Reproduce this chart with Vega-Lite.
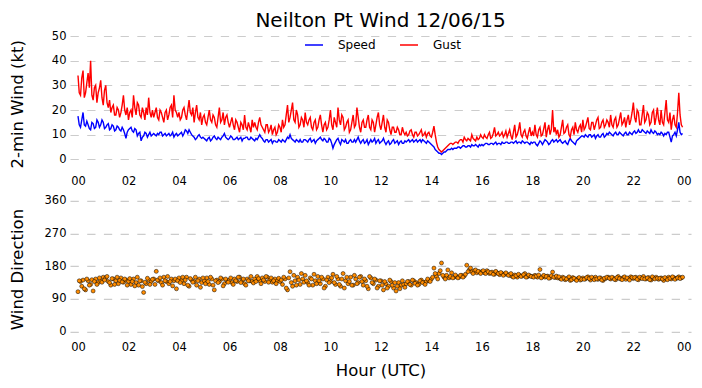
{
"$schema": "https://vega.github.io/schema/vega-lite/v6.json",
"background": "white",
"padding": {"left": 9, "top": 10, "right": 5, "bottom": 5},
"bounds": "flush",
"spacing": 28.9,
"config": {
  "view": {"stroke": null},
  "font": "DejaVu Sans",
  "axis": {"domain": false, "ticks": false, "labelOverlap": false, "labelFont": "DejaVu Sans", "labelFontSize": 11.5, "labelColor": "#000000", "titleFont": "DejaVu Sans", "titleFontSize": 16.5, "titleFontWeight": "normal", "titleColor": "#000000", "gridColor": "#cccccc", "gridDash": [8.3, 8.4], "gridWidth": 1.2, "labelPadding": 4},
  "legend": {"labelFont": "DejaVu Sans", "labelFontSize": 12, "labelColor": "#000000"}
},
"data": {"values": [
{"m":0,"Speed":17.5,"Gust":34,"Dir":110},{"m":6,"Speed":13,"Gust":26,"Dir":138},{"m":12,"Speed":19,"Gust":36,"Dir":142},{"m":18,"Speed":13.5,"Gust":27,"Dir":115},{"m":24,"Speed":14,"Gust":35,"Dir":140},{"m":30,"Speed":12,"Gust":40,"Dir":130},{"m":36,"Speed":14.5,"Gust":24,"Dir":112},{"m":42,"Speed":13,"Gust":30,"Dir":145},{"m":48,"Speed":15,"Gust":27,"Dir":135},{"m":54,"Speed":14,"Gust":32,"Dir":140},
{"m":60,"Speed":15,"Gust":22,"Dir":150},{"m":66,"Speed":13,"Gust":30,"Dir":148},{"m":72,"Speed":14.5,"Gust":21,"Dir":138},{"m":78,"Speed":12.5,"Gust":19,"Dir":128},{"m":84,"Speed":13.5,"Gust":22,"Dir":145},{"m":90,"Speed":12,"Gust":18,"Dir":140},{"m":96,"Speed":13,"Gust":20,"Dir":132},{"m":102,"Speed":11.5,"Gust":19,"Dir":148},{"m":108,"Speed":12,"Gust":26,"Dir":136},{"m":114,"Speed":8.5,"Gust":18,"Dir":142},
{"m":120,"Speed":12,"Gust":16,"Dir":138},{"m":126,"Speed":13,"Gust":20,"Dir":130},{"m":132,"Speed":11,"Gust":26,"Dir":145},{"m":138,"Speed":12,"Gust":18,"Dir":135},{"m":144,"Speed":10.5,"Gust":22,"Dir":128},{"m":150,"Speed":7.5,"Gust":17,"Dir":140},{"m":156,"Speed":9.5,"Gust":19,"Dir":108},{"m":162,"Speed":10.5,"Gust":21,"Dir":132},{"m":168,"Speed":10,"Gust":25,"Dir":142},{"m":174,"Speed":9.5,"Gust":17,"Dir":138},
{"m":180,"Speed":10.5,"Gust":17,"Dir":145},{"m":186,"Speed":9.5,"Gust":21,"Dir":166},{"m":192,"Speed":10,"Gust":16,"Dir":140},{"m":198,"Speed":11,"Gust":19,"Dir":135},{"m":204,"Speed":10,"Gust":15,"Dir":150},{"m":210,"Speed":9.5,"Gust":20,"Dir":138},{"m":216,"Speed":10.5,"Gust":18,"Dir":132},{"m":222,"Speed":10,"Gust":22,"Dir":145},{"m":228,"Speed":9,"Gust":26,"Dir":140},{"m":234,"Speed":10.5,"Gust":19,"Dir":118},
{"m":240,"Speed":10,"Gust":19,"Dir":148},{"m":246,"Speed":11,"Gust":17,"Dir":140},{"m":252,"Speed":10.5,"Gust":21,"Dir":132},{"m":258,"Speed":11.5,"Gust":16,"Dir":150},{"m":264,"Speed":12,"Gust":24,"Dir":125},{"m":270,"Speed":10,"Gust":18,"Dir":142},{"m":276,"Speed":9,"Gust":15,"Dir":138},{"m":282,"Speed":8.5,"Gust":22,"Dir":128},{"m":288,"Speed":10,"Gust":16,"Dir":145},{"m":294,"Speed":8.5,"Gust":14,"Dir":135},
{"m":300,"Speed":8.5,"Gust":18,"Dir":140},{"m":306,"Speed":7.5,"Gust":14,"Dir":148},{"m":312,"Speed":9,"Gust":20,"Dir":130},{"m":318,"Speed":8,"Gust":15,"Dir":145},{"m":324,"Speed":9.5,"Gust":17,"Dir":115},{"m":330,"Speed":8,"Gust":13,"Dir":142},{"m":336,"Speed":8.5,"Gust":21,"Dir":138},{"m":342,"Speed":9,"Gust":16,"Dir":145},{"m":348,"Speed":10.5,"Gust":14,"Dir":132},{"m":354,"Speed":8.5,"Gust":18,"Dir":140},
{"m":360,"Speed":8.5,"Gust":13,"Dir":142},{"m":366,"Speed":9,"Gust":17,"Dir":135},{"m":372,"Speed":8,"Gust":12,"Dir":145},{"m":378,"Speed":9,"Gust":15,"Dir":138},{"m":384,"Speed":8.5,"Gust":11,"Dir":150},{"m":390,"Speed":7.5,"Gust":14,"Dir":140},{"m":396,"Speed":8.5,"Gust":18,"Dir":132},{"m":402,"Speed":9,"Gust":12,"Dir":145},{"m":408,"Speed":8,"Gust":13,"Dir":140},{"m":414,"Speed":8.5,"Gust":16,"Dir":138},
{"m":420,"Speed":7.5,"Gust":15,"Dir":145},{"m":426,"Speed":8,"Gust":12,"Dir":152},{"m":432,"Speed":10,"Gust":17,"Dir":140},{"m":438,"Speed":8.5,"Gust":13,"Dir":148},{"m":444,"Speed":7,"Gust":11,"Dir":138},{"m":450,"Speed":8,"Gust":14,"Dir":150},{"m":456,"Speed":7.5,"Gust":12,"Dir":142},{"m":462,"Speed":6.5,"Gust":10,"Dir":136},{"m":468,"Speed":7.5,"Gust":13,"Dir":145},{"m":474,"Speed":7,"Gust":11,"Dir":140},
{"m":480,"Speed":7.5,"Gust":13,"Dir":138},{"m":486,"Speed":8,"Gust":16,"Dir":130},{"m":492,"Speed":7,"Gust":14,"Dir":145},{"m":498,"Speed":9,"Gust":22,"Dir":115},{"m":504,"Speed":10,"Gust":17,"Dir":165},{"m":510,"Speed":8,"Gust":23,"Dir":125},{"m":516,"Speed":7,"Gust":15,"Dir":140},{"m":522,"Speed":7.5,"Gust":18,"Dir":150},{"m":528,"Speed":8,"Gust":14,"Dir":130},{"m":534,"Speed":7,"Gust":16,"Dir":145},
{"m":540,"Speed":8,"Gust":19,"Dir":155},{"m":546,"Speed":7,"Gust":14,"Dir":135},{"m":552,"Speed":8.5,"Gust":17,"Dir":148},{"m":558,"Speed":7.5,"Gust":12,"Dir":128},{"m":564,"Speed":6.5,"Gust":16,"Dir":140},{"m":570,"Speed":8,"Gust":13,"Dir":152},{"m":576,"Speed":9,"Gust":18,"Dir":132},{"m":582,"Speed":7.5,"Gust":11,"Dir":145},{"m":588,"Speed":8,"Gust":15,"Dir":125},{"m":594,"Speed":7,"Gust":13,"Dir":150},
{"m":600,"Speed":8,"Gust":20,"Dir":138},{"m":606,"Speed":4.5,"Gust":12,"Dir":158},{"m":612,"Speed":7,"Gust":15,"Dir":130},{"m":618,"Speed":8.5,"Gust":21,"Dir":145},{"m":624,"Speed":6,"Gust":14,"Dir":125},{"m":630,"Speed":7.5,"Gust":17,"Dir":160},{"m":636,"Speed":8,"Gust":13,"Dir":140},{"m":642,"Speed":6.5,"Gust":16,"Dir":132},{"m":648,"Speed":8,"Gust":12,"Dir":150},{"m":654,"Speed":7,"Gust":18,"Dir":128},
{"m":660,"Speed":7,"Gust":14,"Dir":145},{"m":666,"Speed":9,"Gust":17,"Dir":135},{"m":672,"Speed":6.5,"Gust":11,"Dir":152},{"m":678,"Speed":8,"Gust":16,"Dir":128},{"m":684,"Speed":7,"Gust":13,"Dir":140},{"m":690,"Speed":6,"Gust":18,"Dir":118},{"m":696,"Speed":8,"Gust":12,"Dir":148},{"m":702,"Speed":7.5,"Gust":15,"Dir":132},{"m":708,"Speed":6.5,"Gust":14,"Dir":142},{"m":714,"Speed":8,"Gust":19,"Dir":125},
{"m":720,"Speed":7,"Gust":12,"Dir":140},{"m":726,"Speed":8.5,"Gust":18,"Dir":115},{"m":732,"Speed":6,"Gust":11,"Dir":132},{"m":738,"Speed":7.5,"Gust":15,"Dir":125},{"m":744,"Speed":6.5,"Gust":10,"Dir":138},{"m":750,"Speed":8,"Gust":13,"Dir":120},{"m":756,"Speed":7,"Gust":11,"Dir":112},{"m":762,"Speed":6,"Gust":12,"Dir":135},{"m":768,"Speed":7.5,"Gust":10,"Dir":128},{"m":774,"Speed":6.5,"Gust":11,"Dir":130},
{"m":780,"Speed":7,"Gust":11,"Dir":132},{"m":786,"Speed":8,"Gust":10,"Dir":138},{"m":792,"Speed":7.5,"Gust":12,"Dir":128},{"m":798,"Speed":7,"Gust":9,"Dir":140},{"m":804,"Speed":8,"Gust":11,"Dir":135},{"m":810,"Speed":7.5,"Gust":10,"Dir":130},{"m":816,"Speed":7,"Gust":12,"Dir":142},{"m":822,"Speed":7.5,"Gust":10,"Dir":136},{"m":828,"Speed":6.5,"Gust":9,"Dir":138},{"m":834,"Speed":7,"Gust":11,"Dir":140},
{"m":840,"Speed":6,"Gust":9,"Dir":145},{"m":846,"Speed":5,"Gust":13.5,"Dir":175},{"m":852,"Speed":3.5,"Gust":7,"Dir":152},{"m":858,"Speed":2.5,"Gust":4,"Dir":160},{"m":864,"Speed":2,"Gust":3,"Dir":189},{"m":870,"Speed":3,"Gust":4,"Dir":150},{"m":876,"Speed":3.5,"Gust":5,"Dir":155},{"m":882,"Speed":4,"Gust":6,"Dir":148},{"m":888,"Speed":4.5,"Gust":6.5,"Dir":162},{"m":894,"Speed":4.5,"Gust":6.5,"Dir":150},
{"m":900,"Speed":4.5,"Gust":7,"Dir":152},{"m":906,"Speed":5,"Gust":7.5,"Dir":150},{"m":912,"Speed":5,"Gust":8,"Dir":155},{"m":918,"Speed":5.5,"Gust":9,"Dir":153},{"m":924,"Speed":5,"Gust":7.5,"Dir":183},{"m":930,"Speed":5.5,"Gust":8,"Dir":170},{"m":936,"Speed":6,"Gust":10,"Dir":165},{"m":942,"Speed":5.5,"Gust":8,"Dir":168},{"m":948,"Speed":5.5,"Gust":9,"Dir":162},{"m":954,"Speed":6,"Gust":8.5,"Dir":165},
{"m":960,"Speed":6,"Gust":9,"Dir":165},{"m":966,"Speed":6,"Gust":10,"Dir":162},{"m":972,"Speed":6.5,"Gust":8.5,"Dir":168},{"m":978,"Speed":6,"Gust":11,"Dir":160},{"m":984,"Speed":6.5,"Gust":9,"Dir":164},{"m":990,"Speed":6.5,"Gust":13,"Dir":158},{"m":996,"Speed":6,"Gust":10,"Dir":162},{"m":1002,"Speed":6.5,"Gust":9.5,"Dir":157},{"m":1008,"Speed":7,"Gust":11,"Dir":160},{"m":1014,"Speed":6.5,"Gust":10,"Dir":158},
{"m":1020,"Speed":7,"Gust":9,"Dir":158},{"m":1026,"Speed":6.5,"Gust":12,"Dir":155},{"m":1032,"Speed":7,"Gust":8,"Dir":152},{"m":1038,"Speed":7,"Gust":14,"Dir":156},{"m":1044,"Speed":6.5,"Gust":10,"Dir":150},{"m":1050,"Speed":7,"Gust":15,"Dir":155},{"m":1056,"Speed":7.5,"Gust":9,"Dir":153},{"m":1062,"Speed":6.5,"Gust":12,"Dir":160},{"m":1068,"Speed":7,"Gust":8.5,"Dir":151},{"m":1074,"Speed":6,"Gust":13,"Dir":154},
{"m":1080,"Speed":6.5,"Gust":11,"Dir":152},{"m":1086,"Speed":7,"Gust":14,"Dir":155},{"m":1092,"Speed":5.5,"Gust":9,"Dir":150},{"m":1098,"Speed":7.5,"Gust":13,"Dir":171},{"m":1104,"Speed":6,"Gust":10,"Dir":151},{"m":1110,"Speed":8,"Gust":15,"Dir":150},{"m":1116,"Speed":7,"Gust":12,"Dir":153},{"m":1122,"Speed":6.5,"Gust":10,"Dir":148},{"m":1128,"Speed":8,"Gust":20,"Dir":164},{"m":1134,"Speed":7.5,"Gust":13,"Dir":149},
{"m":1140,"Speed":7,"Gust":12,"Dir":148},{"m":1146,"Speed":8,"Gust":10,"Dir":146},{"m":1152,"Speed":6.5,"Gust":16,"Dir":150},{"m":1158,"Speed":7.5,"Gust":11,"Dir":143},{"m":1164,"Speed":6,"Gust":14,"Dir":147},{"m":1170,"Speed":8.5,"Gust":9,"Dir":141},{"m":1176,"Speed":7,"Gust":13,"Dir":149},{"m":1182,"Speed":6,"Gust":15,"Dir":144},{"m":1188,"Speed":8,"Gust":11,"Dir":146},{"m":1194,"Speed":9,"Gust":14,"Dir":142},
{"m":1200,"Speed":9.5,"Gust":16,"Dir":148},{"m":1206,"Speed":10,"Gust":13,"Dir":145},{"m":1212,"Speed":9,"Gust":17,"Dir":151},{"m":1218,"Speed":10,"Gust":12,"Dir":142},{"m":1224,"Speed":9.5,"Gust":15,"Dir":147},{"m":1230,"Speed":8.5,"Gust":14,"Dir":150},{"m":1236,"Speed":10,"Gust":17,"Dir":144},{"m":1242,"Speed":9,"Gust":13,"Dir":148},{"m":1248,"Speed":10.5,"Gust":16,"Dir":141},{"m":1254,"Speed":9.5,"Gust":14,"Dir":146},
{"m":1260,"Speed":10,"Gust":15,"Dir":150},{"m":1266,"Speed":10.5,"Gust":18,"Dir":145},{"m":1272,"Speed":9.5,"Gust":13,"Dir":148},{"m":1278,"Speed":11,"Gust":17,"Dir":143},{"m":1284,"Speed":10,"Gust":14,"Dir":152},{"m":1290,"Speed":10.5,"Gust":19,"Dir":146},{"m":1296,"Speed":9.5,"Gust":15,"Dir":149},{"m":1302,"Speed":11,"Gust":13,"Dir":144},{"m":1308,"Speed":10,"Gust":18,"Dir":147},{"m":1314,"Speed":10.5,"Gust":16,"Dir":151},
{"m":1320,"Speed":11,"Gust":23,"Dir":146},{"m":1326,"Speed":10.5,"Gust":15,"Dir":150},{"m":1332,"Speed":12,"Gust":19,"Dir":143},{"m":1338,"Speed":11,"Gust":14,"Dir":148},{"m":1344,"Speed":11.5,"Gust":22,"Dir":152},{"m":1350,"Speed":10.5,"Gust":16,"Dir":145},{"m":1356,"Speed":11,"Gust":18,"Dir":149},{"m":1362,"Speed":12,"Gust":15,"Dir":142},{"m":1368,"Speed":10.5,"Gust":20,"Dir":147},{"m":1374,"Speed":11,"Gust":17,"Dir":150},
{"m":1380,"Speed":10.5,"Gust":16,"Dir":144},{"m":1386,"Speed":11,"Gust":20,"Dir":148},{"m":1392,"Speed":9.5,"Gust":14,"Dir":141},{"m":1398,"Speed":10,"Gust":24,"Dir":146},{"m":1404,"Speed":11,"Gust":15,"Dir":150},{"m":1410,"Speed":7,"Gust":12,"Dir":145},{"m":1416,"Speed":10,"Gust":18,"Dir":149},{"m":1422,"Speed":9.5,"Gust":13,"Dir":147},{"m":1428,"Speed":15,"Gust":27,"Dir":151},{"m":1434,"Speed":10,"Gust":14,"Dir":148},
{"m":3,"Speed":14,"Gust":27,"Dir":140},{"m":9,"Speed":16,"Gust":33,"Dir":125},{"m":15,"Speed":14,"Gust":25,"Dir":118},{"m":21,"Speed":15.5,"Gust":31,"Dir":145},{"m":27,"Speed":12.5,"Gust":29,"Dir":128},{"m":33,"Speed":15,"Gust":26,"Dir":143},{"m":39,"Speed":12.5,"Gust":29,"Dir":138},{"m":45,"Speed":16,"Gust":23,"Dir":130},{"m":51,"Speed":13,"Gust":29,"Dir":148},{"m":57,"Speed":16,"Gust":25,"Dir":136},
{"m":63,"Speed":12.5,"Gust":28,"Dir":142},{"m":69,"Speed":14,"Gust":23,"Dir":152},{"m":75,"Speed":12,"Gust":24,"Dir":135},{"m":81,"Speed":14,"Gust":21,"Dir":146},{"m":87,"Speed":11.5,"Gust":18,"Dir":130},{"m":93,"Speed":13.5,"Gust":21,"Dir":150},{"m":99,"Speed":12,"Gust":17,"Dir":141},{"m":105,"Speed":13,"Gust":22,"Dir":137},{"m":111,"Speed":10.5,"Gust":20,"Dir":145},{"m":117,"Speed":11,"Gust":21,"Dir":128},
{"m":123,"Speed":12.5,"Gust":19,"Dir":146},{"m":129,"Speed":11.5,"Gust":17,"Dir":138},{"m":135,"Speed":12.5,"Gust":21,"Dir":126},{"m":141,"Speed":9.5,"Gust":23,"Dir":150},{"m":147,"Speed":11,"Gust":18,"Dir":140},{"m":153,"Speed":9,"Gust":21,"Dir":124},{"m":159,"Speed":11,"Gust":16,"Dir":136},{"m":165,"Speed":9,"Gust":18,"Dir":147},{"m":171,"Speed":11,"Gust":19,"Dir":130},{"m":177,"Speed":10,"Gust":20,"Dir":144},
{"m":183,"Speed":10,"Gust":19,"Dir":130},{"m":189,"Speed":10.5,"Gust":17,"Dir":142},{"m":195,"Speed":11,"Gust":20,"Dir":148},{"m":201,"Speed":9.5,"Gust":17,"Dir":128},{"m":207,"Speed":10.5,"Gust":19,"Dir":140},{"m":213,"Speed":10,"Gust":16,"Dir":152},{"m":219,"Speed":9.5,"Gust":21,"Dir":138},{"m":225,"Speed":11,"Gust":17,"Dir":126},{"m":231,"Speed":10,"Gust":20,"Dir":145},{"m":237,"Speed":9.5,"Gust":17,"Dir":140},
{"m":243,"Speed":10.5,"Gust":16,"Dir":135},{"m":249,"Speed":9.5,"Gust":20,"Dir":150},{"m":255,"Speed":12,"Gust":18,"Dir":142},{"m":261,"Speed":10.5,"Gust":20,"Dir":128},{"m":267,"Speed":11,"Gust":19,"Dir":146},{"m":273,"Speed":9.5,"Gust":21,"Dir":136},{"m":279,"Speed":8,"Gust":19,"Dir":150},{"m":285,"Speed":9.5,"Gust":17,"Dir":140},{"m":291,"Speed":9,"Gust":19,"Dir":122},{"m":297,"Speed":9,"Gust":17,"Dir":148},
{"m":303,"Speed":8,"Gust":15,"Dir":132},{"m":309,"Speed":8.5,"Gust":17,"Dir":138},{"m":315,"Speed":7.5,"Gust":16,"Dir":150},{"m":321,"Speed":9,"Gust":18,"Dir":128},{"m":327,"Speed":8.5,"Gust":14,"Dir":140},{"m":333,"Speed":9,"Gust":17,"Dir":135},{"m":339,"Speed":8,"Gust":15,"Dir":148},{"m":345,"Speed":9.5,"Gust":19,"Dir":126},{"m":351,"Speed":9,"Gust":17,"Dir":145},{"m":357,"Speed":8,"Gust":15,"Dir":136},
{"m":363,"Speed":9.5,"Gust":15,"Dir":148},{"m":369,"Speed":8,"Gust":14,"Dir":130},{"m":375,"Speed":8.5,"Gust":16,"Dir":140},{"m":381,"Speed":8,"Gust":13,"Dir":150},{"m":387,"Speed":9,"Gust":15,"Dir":135},{"m":393,"Speed":8.5,"Gust":12,"Dir":145},{"m":399,"Speed":9,"Gust":13,"Dir":128},{"m":405,"Speed":8,"Gust":15,"Dir":140},{"m":411,"Speed":9,"Gust":11,"Dir":152},{"m":417,"Speed":8,"Gust":13,"Dir":134},
{"m":423,"Speed":8.5,"Gust":13,"Dir":138},{"m":429,"Speed":9,"Gust":15,"Dir":146},{"m":435,"Speed":9,"Gust":14,"Dir":132},{"m":441,"Speed":7.5,"Gust":12,"Dir":142},{"m":447,"Speed":8,"Gust":14,"Dir":152},{"m":453,"Speed":7,"Gust":11,"Dir":136},{"m":459,"Speed":8,"Gust":14,"Dir":148},{"m":465,"Speed":7.5,"Gust":12,"Dir":140},{"m":471,"Speed":7,"Gust":10,"Dir":132},{"m":477,"Speed":8,"Gust":14,"Dir":147},
{"m":483,"Speed":7,"Gust":11,"Dir":142},{"m":489,"Speed":7.5,"Gust":13,"Dir":150},{"m":495,"Speed":8,"Gust":18,"Dir":120},{"m":501,"Speed":8.5,"Gust":15,"Dir":148},{"m":507,"Speed":8.5,"Gust":20,"Dir":135},{"m":513,"Speed":7.5,"Gust":16,"Dir":155},{"m":519,"Speed":8,"Gust":20,"Dir":128},{"m":525,"Speed":7,"Gust":13,"Dir":142},{"m":531,"Speed":7,"Gust":17,"Dir":160},{"m":537,"Speed":8,"Gust":13,"Dir":136},
{"m":543,"Speed":7.5,"Gust":15,"Dir":140},{"m":549,"Speed":8,"Gust":16,"Dir":128},{"m":555,"Speed":7,"Gust":13,"Dir":145},{"m":561,"Speed":8,"Gust":15,"Dir":158},{"m":567,"Speed":7.5,"Gust":12,"Dir":132},{"m":573,"Speed":8.5,"Gust":16,"Dir":140},{"m":579,"Speed":8,"Gust":14,"Dir":150},{"m":585,"Speed":8.5,"Gust":14,"Dir":120},{"m":591,"Speed":7,"Gust":12,"Dir":142},{"m":597,"Speed":8.5,"Gust":16,"Dir":135},
{"m":603,"Speed":6.5,"Gust":14,"Dir":148},{"m":609,"Speed":6,"Gust":17,"Dir":135},{"m":615,"Speed":8,"Gust":13,"Dir":152},{"m":621,"Speed":7,"Gust":16,"Dir":130},{"m":627,"Speed":8,"Gust":18,"Dir":145},{"m":633,"Speed":7,"Gust":12,"Dir":120},{"m":639,"Speed":6.5,"Gust":15,"Dir":150},{"m":645,"Speed":7.5,"Gust":11,"Dir":138},{"m":651,"Speed":7,"Gust":15,"Dir":128},{"m":657,"Speed":8,"Gust":13,"Dir":155},
{"m":663,"Speed":8,"Gust":21,"Dir":132},{"m":669,"Speed":7.5,"Gust":13,"Dir":150},{"m":675,"Speed":7.5,"Gust":15,"Dir":138},{"m":681,"Speed":6.5,"Gust":13,"Dir":145},{"m":687,"Speed":8,"Gust":16,"Dir":125},{"m":693,"Speed":7,"Gust":13,"Dir":152},{"m":699,"Speed":7,"Gust":16,"Dir":135},{"m":705,"Speed":8.5,"Gust":11,"Dir":145},{"m":711,"Speed":7.5,"Gust":17,"Dir":120},{"m":717,"Speed":6.5,"Gust":14,"Dir":140},
{"m":723,"Speed":7.5,"Gust":15,"Dir":128},{"m":729,"Speed":7,"Gust":13,"Dir":138},{"m":735,"Speed":7,"Gust":16,"Dir":120},{"m":741,"Speed":6,"Gust":12,"Dir":142},{"m":747,"Speed":7.5,"Gust":13,"Dir":128},{"m":753,"Speed":6.5,"Gust":11,"Dir":135},{"m":759,"Speed":7.5,"Gust":13,"Dir":125},{"m":765,"Speed":7,"Gust":10,"Dir":118},{"m":771,"Speed":6.5,"Gust":13,"Dir":140},{"m":777,"Speed":7.5,"Gust":10,"Dir":122},
{"m":783,"Speed":7.5,"Gust":9.5,"Dir":138},{"m":789,"Speed":7,"Gust":11.5,"Dir":130},{"m":795,"Speed":8,"Gust":10,"Dir":142},{"m":801,"Speed":7.5,"Gust":11,"Dir":133},{"m":807,"Speed":7,"Gust":9.5,"Dir":128},{"m":813,"Speed":8,"Gust":11,"Dir":140},{"m":819,"Speed":8,"Gust":9.5,"Dir":135},{"m":825,"Speed":7,"Gust":11,"Dir":130},{"m":831,"Speed":7.5,"Gust":10.5,"Dir":145},{"m":837,"Speed":6.5,"Gust":9.5,"Dir":138},
{"m":843,"Speed":5.5,"Gust":11,"Dir":150},{"m":849,"Speed":4,"Gust":10,"Dir":160},{"m":855,"Speed":3,"Gust":5,"Dir":145},{"m":861,"Speed":2.5,"Gust":3.5,"Dir":168},{"m":867,"Speed":2.5,"Gust":3.5,"Dir":155},{"m":873,"Speed":3,"Gust":4.5,"Dir":145},{"m":879,"Speed":4,"Gust":5.5,"Dir":170},{"m":885,"Speed":4,"Gust":6.5,"Dir":152},{"m":891,"Speed":4,"Gust":6,"Dir":148},{"m":897,"Speed":4.5,"Gust":7,"Dir":156},
{"m":903,"Speed":5,"Gust":6.5,"Dir":148},{"m":909,"Speed":4.5,"Gust":8,"Dir":155},{"m":915,"Speed":5.5,"Gust":7,"Dir":150},{"m":921,"Speed":5,"Gust":8,"Dir":158},{"m":927,"Speed":5.5,"Gust":8.5,"Dir":165},{"m":933,"Speed":5,"Gust":7.5,"Dir":175},{"m":939,"Speed":5.5,"Gust":8.5,"Dir":160},{"m":945,"Speed":6,"Gust":7.5,"Dir":170},{"m":951,"Speed":5,"Gust":8,"Dir":166},{"m":957,"Speed":5.5,"Gust":10,"Dir":160},
{"m":963,"Speed":5.5,"Gust":8.5,"Dir":168},{"m":969,"Speed":6.5,"Gust":9,"Dir":160},{"m":975,"Speed":6,"Gust":10,"Dir":165},{"m":981,"Speed":6.5,"Gust":8.5,"Dir":162},{"m":987,"Speed":6,"Gust":10.5,"Dir":158},{"m":993,"Speed":7,"Gust":9.5,"Dir":166},{"m":999,"Speed":6.5,"Gust":11,"Dir":160},{"m":1005,"Speed":6,"Gust":10,"Dir":163},{"m":1011,"Speed":6.5,"Gust":9,"Dir":155},{"m":1017,"Speed":7,"Gust":11.5,"Dir":162},
{"m":1023,"Speed":6.5,"Gust":10.5,"Dir":155},{"m":1029,"Speed":7,"Gust":9.5,"Dir":160},{"m":1035,"Speed":6.5,"Gust":11,"Dir":150},{"m":1041,"Speed":7.5,"Gust":9,"Dir":154},{"m":1047,"Speed":7,"Gust":12,"Dir":158},{"m":1053,"Speed":6.5,"Gust":10,"Dir":152},{"m":1059,"Speed":7,"Gust":11,"Dir":157},{"m":1065,"Speed":7,"Gust":9.5,"Dir":150},{"m":1071,"Speed":6.5,"Gust":11,"Dir":156},{"m":1077,"Speed":7,"Gust":9.5,"Dir":152},
{"m":1083,"Speed":7,"Gust":9.5,"Dir":150},{"m":1089,"Speed":6,"Gust":10,"Dir":153},{"m":1095,"Speed":6.5,"Gust":12,"Dir":156},{"m":1101,"Speed":7,"Gust":9.5,"Dir":148},{"m":1107,"Speed":7,"Gust":12.5,"Dir":155},{"m":1113,"Speed":7.5,"Gust":9,"Dir":152},{"m":1119,"Speed":6,"Gust":14,"Dir":147},{"m":1125,"Speed":7.5,"Gust":12,"Dir":154},{"m":1131,"Speed":7,"Gust":11,"Dir":150},{"m":1137,"Speed":8,"Gust":10,"Dir":153},
{"m":1143,"Speed":7.5,"Gust":9,"Dir":151},{"m":1149,"Speed":7,"Gust":13,"Dir":144},{"m":1155,"Speed":7,"Gust":10.5,"Dir":148},{"m":1161,"Speed":6.5,"Gust":13,"Dir":145},{"m":1167,"Speed":7.5,"Gust":10,"Dir":151},{"m":1173,"Speed":7.5,"Gust":12,"Dir":143},{"m":1179,"Speed":6.5,"Gust":10,"Dir":147},{"m":1185,"Speed":7.5,"Gust":12,"Dir":141},{"m":1191,"Speed":8.5,"Gust":13,"Dir":149},{"m":1197,"Speed":9.5,"Gust":11,"Dir":144},
{"m":1203,"Speed":9,"Gust":12,"Dir":144},{"m":1209,"Speed":9.5,"Gust":15,"Dir":149},{"m":1215,"Speed":10,"Gust":12.5,"Dir":146},{"m":1221,"Speed":9,"Gust":15,"Dir":150},{"m":1227,"Speed":10,"Gust":12,"Dir":143},{"m":1233,"Speed":9.5,"Gust":16,"Dir":145},{"m":1239,"Speed":9,"Gust":12.5,"Dir":148},{"m":1245,"Speed":10,"Gust":15,"Dir":142},{"m":1251,"Speed":9,"Gust":13,"Dir":147},{"m":1257,"Speed":10.5,"Gust":16,"Dir":150},
{"m":1263,"Speed":11,"Gust":13,"Dir":147},{"m":1269,"Speed":10,"Gust":14,"Dir":150},{"m":1275,"Speed":10.5,"Gust":16,"Dir":144},{"m":1281,"Speed":10,"Gust":13,"Dir":149},{"m":1287,"Speed":11,"Gust":16.5,"Dir":146},{"m":1293,"Speed":10,"Gust":14,"Dir":143},{"m":1299,"Speed":10.5,"Gust":17,"Dir":151},{"m":1305,"Speed":10,"Gust":16,"Dir":148},{"m":1311,"Speed":11,"Gust":14,"Dir":142},{"m":1317,"Speed":10,"Gust":19,"Dir":149},
{"m":1323,"Speed":11.5,"Gust":17,"Dir":149},{"m":1329,"Speed":11,"Gust":20,"Dir":144},{"m":1335,"Speed":11,"Gust":14,"Dir":150},{"m":1341,"Speed":12,"Gust":18,"Dir":146},{"m":1347,"Speed":11,"Gust":15,"Dir":145},{"m":1353,"Speed":11.5,"Gust":19,"Dir":148},{"m":1359,"Speed":10.5,"Gust":14,"Dir":143},{"m":1365,"Speed":11,"Gust":19,"Dir":151},{"m":1371,"Speed":11.5,"Gust":14,"Dir":145},{"m":1377,"Speed":10,"Gust":21,"Dir":147},
{"m":1383,"Speed":10,"Gust":14,"Dir":147},{"m":1389,"Speed":10.5,"Gust":15,"Dir":145},{"m":1395,"Speed":10.5,"Gust":19,"Dir":149},{"m":1401,"Speed":11,"Gust":16,"Dir":143},{"m":1407,"Speed":9,"Gust":19,"Dir":147},{"m":1413,"Speed":9.5,"Gust":16,"Dir":151},{"m":1419,"Speed":11,"Gust":14,"Dir":144},{"m":1425,"Speed":12,"Gust":19,"Dir":148},{"m":1431,"Speed":11,"Gust":18,"Dir":146},{"m":1437,"Speed":10.5,"Gust":13,"Dir":150}
]},
"vconcat": [
  {
    "width": 621,
    "height": 135.7,
    "title": {"text": "Neilton Pt Wind 12/06/15", "font": "DejaVu Sans", "fontSize": 20, "fontWeight": "normal", "color": "#000000", "anchor": "middle", "frame": "group", "offset": -0.5},
    "encoding": {
      "x": {"field": "m", "type": "quantitative", "scale": {"domain": [-19, 1457], "nice": false, "zero": false},
            "axis": {"values": [0,120,240,360,480,600,720,840,960,1080,1200,1320,1440], "grid": false, "title": null,
                     "labelExpr": "(datum.value/60)%24 < 10 ? '0' + (datum.value/60)%24 : '' + (datum.value/60)%24"}},
      "order": {"field": "m", "type": "quantitative"}
    },
    "layer": [
      {"mark": {"type": "line", "strokeWidth": 1.4},
       "encoding": {"y": {"field": "Speed", "type": "quantitative", "scale": {"domain": [-5, 50], "nice": false},
                          "axis": {"values": [0,10,20,30,40,50], "title": "2-min Wind (kt)", "titleX": -52.5, "titleBaseline": "middle", "grid": true}},
                    "color": {"datum": "Speed", "scale": {"domain": ["Speed", "Gust"], "range": ["#0000ff", "#ff0000"]},
                              "legend": {"title": null, "orient": "none", "legendX": 234, "legendY": -1, "direction": "horizontal", "symbolType": "stroke", "symbolSize": 324, "symbolStrokeWidth": 1.5, "labelOffset": 14, "columnPadding": 21, "padding": 0}}}},
      {"mark": {"type": "line", "strokeWidth": 1.4},
       "encoding": {"y": {"field": "Gust", "type": "quantitative",
                          "axis": {"values": [0,10,20,30,40,50], "title": "2-min Wind (kt)", "titleX": -52.5, "titleBaseline": "middle", "grid": true}},
                    "color": {"datum": "Gust"}}}
    ]
  },
  {
    "width": 621,
    "height": 136.2,
    "mark": {"type": "point", "shape": "circle", "filled": true, "fill": "#ff8c00", "stroke": "#000000", "strokeWidth": 0.5, "size": 16, "opacity": 1},
    "encoding": {
      "x": {"field": "m", "type": "quantitative", "scale": {"domain": [-19, 1457], "nice": false, "zero": false},
            "axis": {"values": [0,120,240,360,480,600,720,840,960,1080,1200,1320,1440], "grid": false, "title": "Hour (UTC)", "titlePadding": 10,
                     "labelExpr": "(datum.value/60)%24 < 10 ? '0' + (datum.value/60)%24 : '' + (datum.value/60)%24"}},
      "y": {"field": "Dir", "type": "quantitative", "scale": {"domain": [-15, 360], "nice": false},
            "axis": {"values": [0,90,180,270,360], "title": "Wind Direction", "titleX": -52.5, "titleBaseline": "middle", "grid": true}}
    }
  }
]
}
